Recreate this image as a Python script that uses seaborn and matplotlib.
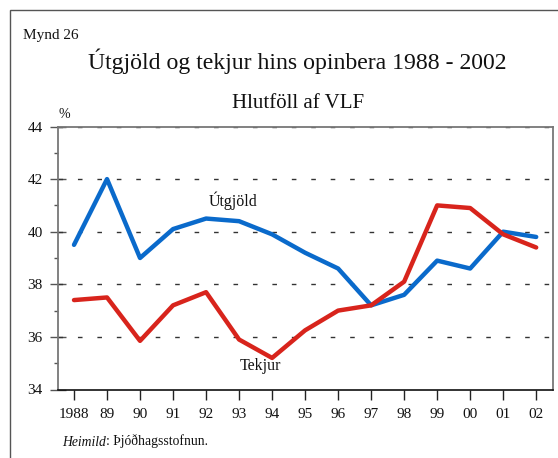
import matplotlib
matplotlib.use("Agg")
import matplotlib.pyplot as plt
import seaborn as sns
import pandas as pd
from matplotlib.patches import Rectangle
from matplotlib.ticker import MultipleLocator

years = [1988, 1989, 1990, 1991, 1992, 1993, 1994, 1995, 1996, 1997, 1998, 1999, 2000, 2001, 2002]
year_labels = ["1988", "89", "90", "91", "92", "93", "94", "95", "96", "97", "98", "99", "00", "01", "02"]
utgjold = [39.5, 42.0, 39.0, 40.1, 40.5, 40.4, 39.9, 39.2, 38.6, 37.2, 37.6, 38.9, 38.6, 40.0, 39.8]
tekjur = [37.4, 37.5, 35.85, 37.2, 37.7, 35.9, 35.2, 36.25, 37.0, 37.2, 38.1, 41.0, 40.9, 39.9, 39.4]
series_names = ["Útgjöld", "Tekjur"]
colors = {"Útgjöld": "#0A6ACB", "Tekjur": "#D8241C"}

df = pd.DataFrame({
    "year": years * 2,
    "value": utgjold + tekjur,
    "series": [series_names[0]] * len(years) + [series_names[1]] * len(years),
})

sns.set_theme(style="white")
plt.rcParams["font.family"] = ["Liberation Serif", "DejaVu Serif"]
plt.rcParams["lines.scale_dashes"] = False

fig = plt.figure(figsize=(5.58, 4.58), dpi=100)
W, H = 558, 458
ax = fig.add_axes([57.5 / W, 1 - 389.5 / H, (552.7 - 57.5) / W, (389.5 - 126.5) / H])

# frame around figure
fig.patches.append(Rectangle((10 / W, -0.05), 1.2, 1 - 10 / H + 0.05, transform=fig.transFigure,
                             fill=False, edgecolor="#555555", linewidth=1.0, zorder=0))

# grid lines
for yv in [36, 38, 40, 42, 44]:
    ax.axhline(yv, color="#333333", linewidth=1.0, dashes=(3.3, 10.7), zorder=1)

sns.lineplot(data=df, x="year", y="value", hue="series", palette=colors, ax=ax,
             linewidth=3.2, legend=False, zorder=3)

ax.set_xlim(1987.5, 2002.5)
ax.set_ylim(34, 44)
ax.set_xticks(years)
ax.set_xticklabels(year_labels)
ax.yaxis.set_major_locator(MultipleLocator(2))
ax.yaxis.set_minor_locator(MultipleLocator(1))
ax.set_xlabel("")
ax.set_ylabel("")

ax.tick_params(axis="y", which="major", direction="inout", length=11, width=1.0, color="#555555",
               labelsize=11, pad=5, left=True)
ax.tick_params(axis="y", which="minor", direction="out", length=3, width=1.0, color="#555555", left=True)
ax.tick_params(axis="x", which="major", direction="out", length=7, width=1.0, color="#222222",
               labelsize=11, pad=6, bottom=True)
for lab in ax.get_xticklabels() + ax.get_yticklabels():
    lab.set_color("#111111")

for side in ["left", "right", "top"]:
    ax.spines[side].set_color("#777777")
    ax.spines[side].set_linewidth(1.3)
ax.spines["bottom"].set_color("#111111")
ax.spines["bottom"].set_linewidth(1.2)

# texts
fig.text(23 / W, 1 - 38.5 / H, "Mynd 26", fontsize=11, ha="left", va="baseline", color="#111111")
fig.text(297.5 / W, 1 - 68.5 / H, "Útgjöld og tekjur hins opinbera 1988 - 2002", fontsize=17.1,
         ha="center", va="baseline", color="#111111")
fig.text(298.5 / W, 1 - 107.5 / H, "Hlutföll af VLF", fontsize=15, ha="center", va="baseline",
         color="#111111")
fig.text(64 / W, 1 - 118.5 / H, "%", fontsize=10, ha="center", va="baseline", color="#111111")
ax.text(1992.82, 40.98, "Útgjöld", fontsize=11.5, ha="center", va="baseline", color="#111111")
ax.text(1993.66, 34.74, "Tekjur", fontsize=11.5, ha="center", va="baseline", color="#111111")

t1 = fig.text(62 / W, 1 - 445.5 / H, "Heimild", fontsize=9.8, ha="left", va="baseline",
              style="italic", color="#111111")
fig.canvas.draw()
bb = t1.get_window_extent(renderer=fig.canvas.get_renderer())
fig.text(bb.x1 / W, 1 - 445.5 / H, ": Þjóðhagsstofnun.", fontsize=9.8, ha="left", va="baseline",
         color="#111111")

fig.savefig("out.png", dpi=100)
